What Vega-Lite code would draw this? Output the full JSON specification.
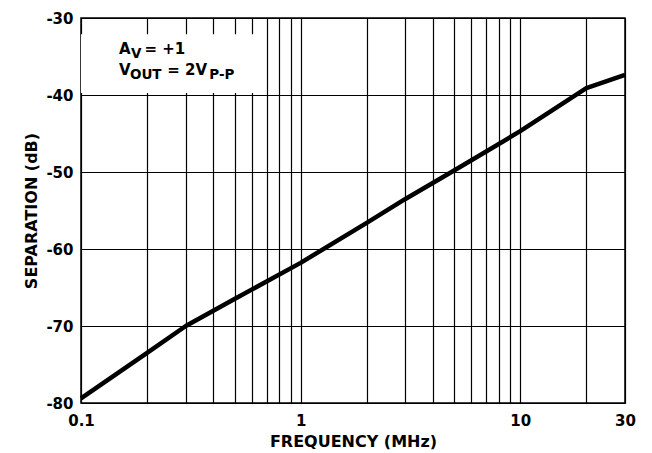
{
  "$schema": "https://vega.github.io/schema/vega-lite/v6.json",
  "width": 544,
  "height": 385,
  "autosize": {"type": "none"},
  "padding": {"left": 81, "top": 18, "right": 27, "bottom": 50},
  "background": "white",
  "config": {
    "view": {"stroke": "black", "strokeWidth": 1.5},
    "font": "DejaVu Sans",
    "axis": {
      "grid": true,
      "gridColor": "black",
      "gridOpacity": 1,
      "gridWidth": 1.2,
      "ticks": false,
      "domain": false,
      "labelFont": "DejaVu Sans",
      "labelFontSize": 15,
      "labelFontWeight": "bold",
      "labelColor": "black",
      "labelPadding": 8,
      "labelOverlap": false,
      "labelFlush": false,
      "titleFont": "DejaVu Sans",
      "titleFontSize": 16,
      "titleFontWeight": "bold",
      "titleColor": "black"
    }
  },
  "datasets": {
    "curve": [
      {"freq": 0.1, "db": -79.4},
      {"freq": 0.2, "db": -73.5},
      {"freq": 0.3, "db": -70.0},
      {"freq": 0.5, "db": -66.5},
      {"freq": 1, "db": -61.8},
      {"freq": 2, "db": -56.6},
      {"freq": 3, "db": -53.5},
      {"freq": 5, "db": -49.8},
      {"freq": 10, "db": -44.7},
      {"freq": 20, "db": -39.1},
      {"freq": 30, "db": -37.4}
    ],
    "one": [{"k": 1}]
  },
  "layer": [
    {
      "data": {"name": "one"},
      "mark": {"type": "rect", "color": "white"},
      "encoding": {
        "x": {
          "datum": 0.1,
          "type": "quantitative",
          "scale": {"type": "log", "domain": [0.1, 30], "nice": false},
          "axis": {
            "values": [0.1, 0.2, 0.3, 0.4, 0.5, 0.6, 0.7, 0.8, 0.9, 1, 2, 3, 4, 5, 6, 7, 8, 9, 10, 20, 30],
            "labelExpr": "datum.value == 0.1 ? '0.1' : datum.value == 1 ? '1' : datum.value == 10 ? '10' : datum.value == 30 ? '30' : ''",
            "labelPadding": 10,
            "title": "FREQUENCY (MHz)",
            "titlePadding": 5
          }
        },
        "x2": {"datum": 0.65},
        "y": {
          "datum": -32.1,
          "type": "quantitative",
          "scale": {"domain": [-80, -30], "nice": false, "zero": false},
          "axis": {
            "values": [-80, -70, -60, -50, -40, -30],
            "labelExpr": "'' + datum.value",
            "title": "SEPARATION (dB)",
            "titlePadding": 6
          }
        },
        "y2": {"datum": -39.75}
      }
    },
    {
      "data": {"name": "curve"},
      "mark": {"type": "line", "color": "black", "strokeWidth": 4.5, "strokeJoin": "round"},
      "encoding": {
        "x": {"field": "freq", "type": "quantitative"},
        "y": {"field": "db", "type": "quantitative"}
      }
    },
    {
      "data": {"name": "one"},
      "mark": {"type": "text", "text": "A", "fontSize": 15, "fontWeight": "bold", "align": "left", "baseline": "alphabetic", "color": "black"},
      "encoding": {"x": {"datum": 0.1488, "type": "quantitative"}, "y": {"datum": -34.68, "type": "quantitative"}}
    },
    {
      "data": {"name": "one"},
      "mark": {"type": "text", "text": "V", "fontSize": 13.5, "fontWeight": "bold", "align": "left", "baseline": "alphabetic", "color": "black"},
      "encoding": {"x": {"datum": 0.1687, "type": "quantitative"}, "y": {"datum": -35.19, "type": "quantitative"}}
    },
    {
      "data": {"name": "one"},
      "mark": {"type": "text", "text": "= +1", "fontSize": 15, "fontWeight": "bold", "align": "left", "baseline": "alphabetic", "color": "black"},
      "encoding": {"x": {"datum": 0.1944, "type": "quantitative"}, "y": {"datum": -34.68, "type": "quantitative"}}
    },
    {
      "data": {"name": "one"},
      "mark": {"type": "text", "text": "V", "fontSize": 15, "fontWeight": "bold", "align": "left", "baseline": "alphabetic", "color": "black"},
      "encoding": {"x": {"datum": 0.1488, "type": "quantitative"}, "y": {"datum": -37.4, "type": "quantitative"}}
    },
    {
      "data": {"name": "one"},
      "mark": {"type": "text", "text": "OUT", "fontSize": 13.5, "fontWeight": "bold", "align": "left", "baseline": "alphabetic", "color": "black"},
      "encoding": {"x": {"datum": 0.167, "type": "quantitative"}, "y": {"datum": -37.92, "type": "quantitative"}}
    },
    {
      "data": {"name": "one"},
      "mark": {"type": "text", "text": "= 2V", "fontSize": 15, "fontWeight": "bold", "align": "left", "baseline": "alphabetic", "color": "black"},
      "encoding": {"x": {"datum": 0.2472, "type": "quantitative"}, "y": {"datum": -37.4, "type": "quantitative"}}
    },
    {
      "data": {"name": "one"},
      "mark": {"type": "text", "text": "P-P", "fontSize": 13.5, "fontWeight": "bold", "align": "left", "baseline": "alphabetic", "color": "black"},
      "encoding": {"x": {"datum": 0.3837, "type": "quantitative"}, "y": {"datum": -37.92, "type": "quantitative"}}
    }
  ]
}
